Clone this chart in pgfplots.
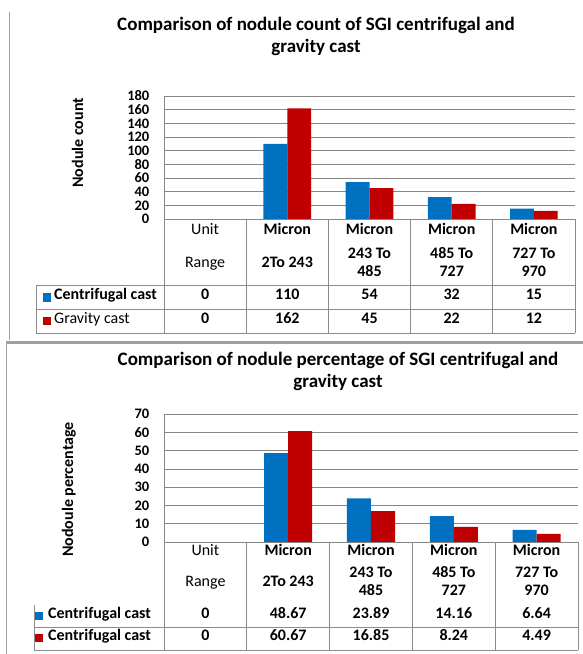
\documentclass[border=0pt]{standalone}
\usepackage{fontspec}
\setmainfont{Carlito}
\usepackage{pgfplots}
\pgfplotsset{compat=1.18}
\definecolor{cblue}{HTML}{0070C0}
\definecolor{cred}{HTML}{C00000}
\definecolor{gridc}{HTML}{868686}
\definecolor{tabc}{HTML}{8C8C8C}
\definecolor{framec}{HTML}{A0A0A0}
\newcommand\tf{\fontsize{14.5}{15}\selectfont\bfseries}
\newcommand\cf{\fontsize{16}{18}\selectfont\bfseries}
\newcommand\ttlf{\fontsize{19}{22}\selectfont\bfseries}
\pgfplotsset{mybar/.style={
  scale only axis, xmin=0, xmax=5, ymin=0,
  axis lines*=left, axis line style={gridc,-,line width=0.7pt},
  xtick=\empty, major tick length=0pt,
  ymajorgrids, grid style={gridc, line width=0.7pt},
  yticklabel style={font=\tf, inner sep=0.5pt, xshift=-14pt},
  /pgf/number format/assume math mode=true,
  ybar=0pt, bar width=0.29, clip=false,
  ylabel style={font=\cf},
}}
\begin{document}
\begin{tikzpicture}[x=1pt,y=1pt]
\path[use as bounding box] (0,0) rectangle (583,654);
% ---------------- top chart ----------------
\draw[framec, line width=1pt] (9,642) -- (9,314);
\node[font=\ttlf, align=center] at (316,618) {Comparison of nodule count of SGI centrifugal and\\gravity cast};
\begin{axis}[mybar, at={(164pt,435pt)}, anchor=south west, width=411pt, height=123pt,
  ymax=180, ytick={0,20,...,180},
  ylabel={Nodule count},
  ylabel style={at={(rel axis cs:-0.21,0.62)}, anchor=center}]
\addplot[fill=cblue, draw=none] coordinates {(1.5,110) (2.5,54) (3.5,32) (4.5,15)};
\addplot[fill=cred, draw=none] coordinates {(1.5,162) (2.5,45) (3.5,22) (4.5,12)};
\end{axis}
\begin{scope}[tabc, line width=0.7pt]
\foreach \x in {164,246.2,328.4,410.6,492.8,575} \draw (\x,435) -- (\x,321);
\foreach \y in {369,345,321} \draw (36,\y) -- (575,\y);
\draw (36,369) -- (36,321);
\end{scope}
\begin{scope}[every node/.style={font=\cf, anchor=mid, inner sep=0pt}]
\node[font=\fontsize{16}{18}\selectfont] at (205.1,422) {Unit};
\node[font=\fontsize{16}{18}\selectfont] at (205.1,389) {Range};
\node at (287.3,422) {Micron};
\node at (287.3,389) {2To 243};
\node at (369.5,422) {Micron};
\node at (369.5,398) {243 To};
\node at (369.5,380) {485};
\node at (451.7,422) {Micron};
\node at (451.7,398) {485 To};
\node at (451.7,380) {727};
\node at (533.9,422) {Micron};
\node at (533.9,398) {727 To};
\node at (533.9,380) {970};
\fill[cblue] (43,361) rectangle (51,352);
\fill[cred] (43,337) rectangle (51,329);
\node[anchor=mid west] at (54,357) {Centrifugal cast};
\node[anchor=mid west, font=\fontsize{16}{18}\selectfont] at (54,333) {Gravity cast};
\node at (205.1,357) {0};
\node at (287.3,357) {110};
\node at (369.5,357) {54};
\node at (451.7,357) {32};
\node at (533.9,357) {15};
\node at (205.1,333) {0};
\node at (287.3,333) {162};
\node at (369.5,333) {45};
\node at (451.7,333) {22};
\node at (533.9,333) {12};
\end{scope}
% ---------------- bottom chart ----------------
\draw[framec, line width=3pt] (6,311.5) -- (583,311.5);
\draw[framec, line width=1.5pt] (6.5,313) -- (6.5,0);
\node[font=\ttlf, align=center] at (338,283) {Comparison of nodule percentage of SGI centrifugal and\\gravity cast};
\begin{axis}[mybar, at={(164pt,112pt)}, anchor=south west, width=414pt, height=128pt,
  ymax=70, ytick={0,10,...,70},
  ylabel={Nodoule percentage},
  ylabel style={at={(rel axis cs:-0.23,0.41)}, anchor=center}]
\addplot[fill=cblue, draw=none] coordinates {(1.5,48.67) (2.5,23.89) (3.5,14.16) (4.5,6.64)};
\addplot[fill=cred, draw=none] coordinates {(1.5,60.67) (2.5,16.85) (3.5,8.24) (4.5,4.49)};
\end{axis}
\begin{scope}[tabc, line width=0.7pt]
\foreach \x in {164,246.8,329.6,412.4,495.2,578} \draw (\x,112) -- (\x,4);
\foreach \y in {27,4} \draw (34,\y) -- (578,\y);
\draw (34,49) -- (34,4);
\end{scope}
\begin{scope}[every node/.style={font=\cf, anchor=mid, inner sep=0pt}]
\node[font=\fontsize{16}{18}\selectfont] at (205.4,101) {Unit};
\node[font=\fontsize{16}{18}\selectfont] at (205.4,70) {Range};
\node at (288.2,101) {Micron};
\node at (288.2,70) {2To 243};
\node at (371,101) {Micron};
\node at (371,79) {243 To};
\node at (371,61) {485};
\node at (453.8,101) {Micron};
\node at (453.8,79) {485 To};
\node at (453.8,61) {727};
\node at (536.6,101) {Micron};
\node at (536.6,79) {727 To};
\node at (536.6,61) {970};
\fill[cblue] (35,42) rectangle (43,34);
\fill[cred] (35,20) rectangle (43,12);
\node[anchor=mid west] at (48,38) {Centrifugal cast};
\node[anchor=mid west] at (48,16) {Centrifugal cast};
\node at (205.4,38) {0};
\node at (288.2,38) {48.67};
\node at (371,38) {23.89};
\node at (453.8,38) {14.16};
\node at (536.6,38) {6.64};
\node at (205.4,16) {0};
\node at (288.2,16) {60.67};
\node at (371,16) {16.85};
\node at (453.8,16) {8.24};
\node at (536.6,16) {4.49};
\end{scope}
\end{tikzpicture}
\end{document}
